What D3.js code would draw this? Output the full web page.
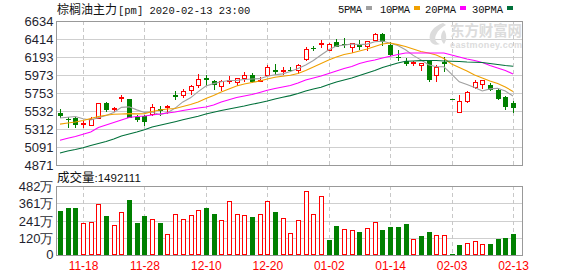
<!DOCTYPE html>
<html><head><meta charset="utf-8">
<script src="https://cdn.jsdelivr.net/npm/d3@7"></script>
<style>
html,body{margin:0;padding:0;background:#fff;}
svg{display:block;}
</style></head><body>
<svg id="c" width="578" height="276"></svg>
<script>
// ---------- data ----------
const dates = ["11-13","11-14","11-15","11-18","11-19","11-20","11-21","11-22","11-25","11-26","11-27","11-28","11-29",
"12-02","12-03","12-04","12-05","12-06","12-09","12-10","12-11","12-12","12-13","12-16","12-17","12-18","12-19","12-20",
"12-23","12-24","12-25","12-26","12-27","12-30","12-31","01-02","01-03","01-06","01-07","01-08","01-09","01-10","01-13",
"01-14","01-15","01-16","01-17","01-20","01-21","01-22","01-23","02-03","02-04","02-05","02-06","02-07","02-10","02-11",
"02-12","02-13"];
const open  = [5504,5440,5446,5373,5364,5450,5626,5555,5687,5679,5462,5467,5495,5552,5577,5722,5732,5793,5847,5932,
5903,5834,5903,5887,5936,5969,5903,5969,6030,6027,6040,6030,6169,6305,6353,6283,6373,6357,6312,6340,
6324,6406,6475,6337,6197,6148,6124,6092,6141,5969,6132,5675,5520,5658,5822,5862,5854,5793,5703,5630];
const high  = [5557,5455,5455,5410,5459,5630,5642,5577,5732,5679,5487,5480,5614,5597,5610,5781,5805,5854,5985,5977,
5915,5915,5957,5936,6006,5993,5944,6092,6108,6067,6071,6108,6316,6332,6406,6365,6418,6426,6365,6406,
6385,6491,6491,6373,6283,6181,6148,6120,6161,6092,6189,5675,5732,5781,5915,5908,5870,5805,5716,5658];
const low   = [5455,5340,5333,5333,5364,5446,5528,5528,5651,5455,5413,5364,5480,5480,5507,5683,5704,5744,5822,5847,
5805,5793,5875,5847,5903,5887,5896,5969,5985,5985,6026,5997,6157,6283,6312,6275,6324,6312,6255,6295,
6283,6406,6337,6222,6161,6096,6100,6038,5903,5895,6018,5675,5520,5646,5818,5818,5793,5683,5557,5520];
const close = [5480,5435,5377,5385,5431,5626,5560,5565,5703,5462,5438,5406,5585,5544,5589,5716,5781,5835,5928,5924,
5866,5896,5915,5936,5977,5896,5915,6067,6025,6032,6036,6092,6295,6300,6365,6353,6328,6353,6365,6324,
6385,6475,6393,6230,6193,6116,6132,6120,5928,6067,6124,5675,5651,5765,5887,5908,5805,5691,5590,5581];
// volume in 万
const volume = [307,328,328,224,230,356,272,207,298,384,224,272,249,224,147,286,249,277,312,328,
289,242,375,286,277,265,286,375,300,258,152,242,445,286,410,105,203,179,172,161,
186,228,175,196,196,217,110,133,161,137,137,7,70,84,98,75,77,112,119,149.2];
const ma5  = [5446,5455,5465,5438,5422,5451,5476,5513,5577,5583,5546,5515,5519,5487,5512,5568,5643,5693,5770,5837,
5867,5890,5906,5907,5918,5924,5928,5958,5976,5987,6015,6051,6096,6150,6217,6281,6328,6339,6353,6345,
6351,6380,6388,6361,6335,6281,6213,6158,6098,6073,6074,5983,5889,5856,5820,5777,5803,5811,5776,5715];
const ma10 = [5371,5385,5398,5416,5440,5465,5480,5492,5495,5500,5497,5499,5526,5544,5557,5563,5587,5612,5642,5685,
5722,5765,5802,5838,5863,5881,5900,5924,5945,5957,5969,5991,6028,6071,6114,6157,6193,6224,6242,6267,
6291,6322,6353,6365,6345,6322,6291,6261,6242,6218,6175,6108,6065,6022,5973,5936,5900,5869,5826,5771];
const ma20 = [5173,5198,5220,5247,5275,5330,5361,5391,5422,5453,5465,5471,5483,5495,5508,5520,5538,5553,5569,5581,
5606,5642,5671,5697,5716,5734,5759,5786,5808,5826,5844,5875,5912,5936,5961,5991,6022,6053,6077,6114,
6139,6157,6181,6202,6224,6242,6242,6242,6242,6242,6242,6218,6193,6169,6151,6126,6089,6059,6028,5985];
const ma30 = [5018,5042,5061,5083,5110,5134,5159,5189,5226,5251,5275,5303,5336,5357,5379,5401,5424,5446,5467,5495,
5516,5538,5557,5575,5593,5614,5634,5655,5679,5700,5720,5746,5777,5802,5822,5857,5887,5912,5936,5967,
5997,6028,6065,6092,6120,6141,6145,6149,6151,6151,6145,6141,6139,6132,6129,6126,6114,6102,6089,6080];
const priceTicks = [4871,5091,5312,5532,5753,5973,6193,6414,6634];
const volTicks = [0,120,241,361,482];
const dateTicks = ["11-18","11-28","12-10","12-20","01-02","01-14","02-03","02-13"];
const maNames = ["5PMA","10PMA","20PMA","30PMA"];
const titleCn = "棕榈油主力";
const titleRest = "[pm] 2020-02-13 23:00";
const volLabelCn = "成交量";
const volLabelNum = ":1492111";

// ---------- layout ----------
const L = 56, R = 522.5;
const mainTop = 21, mainBot = 165;
const volTop = 186, volBot = 255;
const RED = "#ff0000", GREEN = "#008000";
const maColors = ["#a0a0a0","#f0a000","#ff00ff","#00703a"];
const cjk = "'Noto Sans CJK SC', sans-serif";
const sans = "'Liberation Sans', Arial, sans-serif";

const svg = d3.select("#c");
const x = d3.scalePoint().domain(dates).range([60, 513]);
const y = d3.scaleLinear().domain([4871, 6634]).range([mainBot, mainTop]);
const yv = d3.scaleLinear().domain([0, 482]).range([volBot, volTop]);
const px = v => Math.round(v) + 0.5;

// ---------- grids ----------
const grid = svg.append("g").attr("shape-rendering","crispEdges");
priceTicks.forEach(t => grid.append("line").attr("x1",L).attr("x2",R).attr("y1",px(y(t))).attr("y2",px(y(t)))
  .attr("stroke","#cfcfcf"));
volTicks.forEach(t => grid.append("line").attr("x1",L).attr("x2",R).attr("y1",px(yv(t))).attr("y2",px(yv(t)))
  .attr("stroke","#cfcfcf"));
dateTicks.forEach(d => {
  const xx = px(x(d));
  grid.append("line").attr("x1",xx).attr("x2",xx).attr("y1",mainTop).attr("y2",mainBot)
    .attr("stroke","#c8c8c8").attr("stroke-dasharray","4,3");
  grid.append("line").attr("x1",xx).attr("x2",xx).attr("y1",volTop).attr("y2",volBot)
    .attr("stroke","#c8c8c8").attr("stroke-dasharray","4,3");
});

// ---------- watermark ----------
const wm = svg.append("g").attr("fill","#dcdcdc");
wm.append("path").attr("d","M443,23 C434,26 428,33 430,40 C431,44 436,46 440,44 C436,43 434,39 436,35 C438,30 442,27 446,25 Z M444,30 C440,34 440,40 444,44 C447,40 447,34 444,30 Z");
wm.append("text").attr("x",450).attr("y",36).attr("font-family",cjk).attr("font-size",14.5).attr("font-weight","bold")
  .attr("textLength",72).text("东方财富网");
wm.append("text").attr("x",450).attr("y",48).attr("font-family",sans).attr("font-size",9).attr("font-weight","bold")
  .attr("textLength",72).text("eastmoney.com");

// ---------- candles ----------
const cg = svg.append("g").attr("shape-rendering","crispEdges");
dates.forEach((d,i) => {
  const o = open[i], c = close[i];
  const up = c > o || (c === o && i > 0 && c >= close[i-1]);
  const col = up ? RED : GREEN;
  const cx = Math.round(x(d));
  const yH = Math.round(y(high[i])), yL = Math.round(y(low[i]));
  const yT = Math.round(y(Math.max(o,c))), yB = Math.round(y(Math.min(o,c)));
  if (yT > yH) cg.append("line").attr("x1",cx+0.5).attr("x2",cx+0.5).attr("y1",yH).attr("y2",yT).attr("stroke",col);
  if (yL > yB) cg.append("line").attr("x1",cx+0.5).attr("x2",cx+0.5).attr("y1",yB).attr("y2",yL+1).attr("stroke",col);
  if (yB - yT <= 1) {
    cg.append("rect").attr("x",cx-2).attr("y",yT).attr("width",5).attr("height",Math.max(1,yB-yT+1)).attr("fill",col);
  } else if (up) {
    cg.append("rect").attr("x",cx-2+0.5).attr("y",yT+0.5).attr("width",4).attr("height",yB-yT).attr("fill","#fff")
      .attr("stroke",col);
  } else {
    cg.append("rect").attr("x",cx-2).attr("y",yT).attr("width",5).attr("height",yB-yT+1).attr("fill",col);
  }
});

// ---------- moving averages ----------
[ma5, ma10, ma20, ma30].forEach((arr, k) => {
  const line = d3.line().x((v,i) => x(dates[i])).y(v => y(v));
  svg.append("path").datum(arr).attr("d", line).attr("fill","none")
    .attr("stroke", maColors[k]).attr("stroke-width",1.1);
});

// ---------- volume ----------
const vg = svg.append("g").attr("shape-rendering","crispEdges");
dates.forEach((d,i) => {
  const up = i === 0 ? close[i] > open[i] : close[i] > close[i-1];
  const cx = Math.round(x(d));
  const yt = Math.round(yv(volume[i]));
  if (up) {
    vg.append("rect").attr("x",cx-2+0.5).attr("y",yt+0.5).attr("width",4).attr("height",volBot-yt-1)
      .attr("fill","#fff").attr("stroke",RED);
  } else {
    vg.append("rect").attr("x",cx-2).attr("y",yt).attr("width",5).attr("height",Math.max(1,volBot-yt)).attr("fill",GREEN);
  }
});

// ---------- frames ----------
const fr = svg.append("g").attr("shape-rendering","crispEdges").attr("fill","none").attr("stroke","#999");
fr.append("rect").attr("x",L+0.5).attr("y",mainTop+0.5).attr("width",R-L-0.5).attr("height",mainBot-mainTop);
fr.append("rect").attr("x",L+0.5).attr("y",volTop+0.5).attr("width",R-L-0.5).attr("height",volBot-volTop);

// ---------- axes ----------
const gy = svg.append("g").attr("transform","translate(53.5,0)")
  .call(d3.axisLeft(y).tickValues(priceTicks).tickSize(0).tickPadding(0).tickFormat(d3.format("d")));
gy.select(".domain").remove();
gy.selectAll("text").attr("font-family",sans).attr("font-size",13).attr("fill","#1f1f2f").attr("dy","0.35em");

const gv = svg.append("g").attr("transform","translate(53.5,0)")
  .call(d3.axisLeft(yv).tickValues(volTicks).tickSize(0).tickPadding(0).tickFormat(d => d === 0 ? "0" : d + "万"));
gv.select(".domain").remove();
gv.selectAll("text").attr("font-family",sans).attr("font-size",13).attr("fill","#1f1f2f").attr("dy","0.35em");
gv.selectAll(".tick").filter(d => d === 0).select("text").attr("dy","0.25em");

const gx = svg.append("g").attr("transform",`translate(0,${volBot})`)
  .call(d3.axisBottom(x).tickValues(dateTicks).tickSize(0).tickPadding(6));
gx.select(".domain").remove();
gx.selectAll("text").attr("font-family",sans).attr("font-size",12).attr("fill",RED);

// ---------- title & legend ----------
const t = svg.append("text").attr("x",57).attr("y",14).attr("fill","#111");
t.append("tspan").attr("font-family",cjk).attr("font-size",12).text(titleCn);
t.append("tspan").attr("font-family","'Liberation Mono', monospace").attr("font-size",10.5).attr("dx",1).text(titleRest);

const legX = [338, 380, 425, 472];
const legW = [24, 30, 31, 31];
maNames.forEach((n,k) => {
  svg.append("text").attr("x",legX[k]).attr("y",13).attr("font-family","'Liberation Mono', monospace")
    .attr("font-size",10.5).attr("textLength",legW[k]).attr("fill","#111").text(n);
  svg.append("rect").attr("x",legX[k]+legW[k]+4).attr("y",6).attr("width",6).attr("height",4).attr("fill",maColors[k]);
});

const vl = svg.append("text").attr("x",57).attr("y",182).attr("fill","#111");
vl.append("tspan").attr("font-family",cjk).attr("font-size",12.5).text(volLabelCn);
vl.append("tspan").attr("font-family",sans).attr("font-size",11.5).text(volLabelNum);
</script>
</body></html>
